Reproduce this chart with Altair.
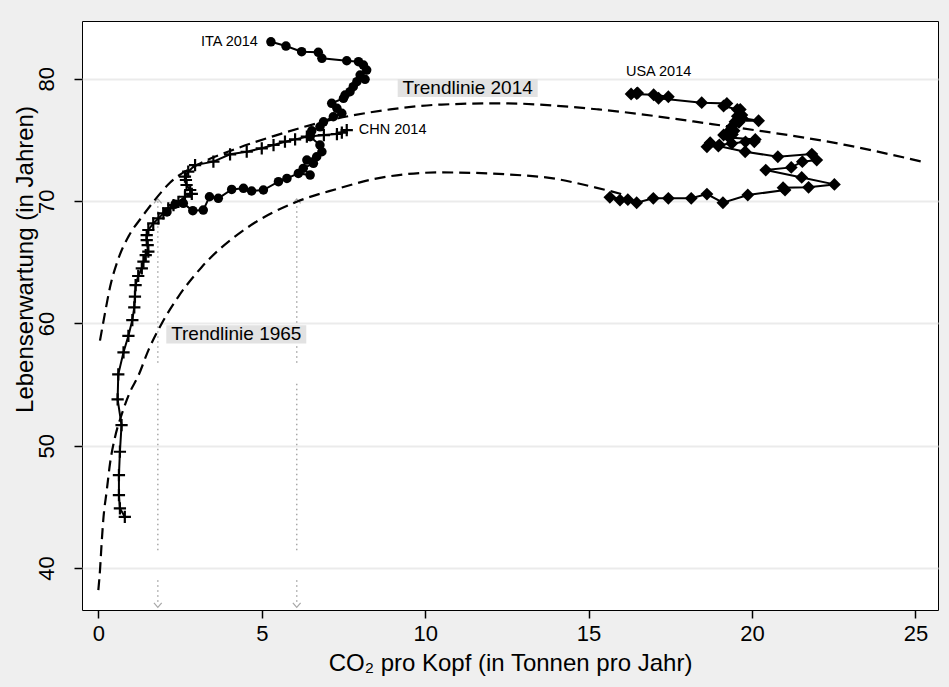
import altair as alt
import pandas as pd

# ---------------- data ----------------
ita_x = [2.10, 2.35, 2.60, 2.89, 3.21, 3.40, 3.67, 4.08, 4.44, 4.69, 5.05, 5.51, 5.77,
         6.12, 6.48, 6.27, 6.58, 6.38, 6.68, 6.84, 6.78, 6.48, 6.53, 6.78, 6.89, 7.19,
         7.45, 7.30, 7.14, 7.50, 7.55, 7.70, 7.80, 7.91, 8.16, 8.01, 8.21, 8.11, 7.96,
         7.60, 6.84, 6.73, 6.22, 5.74, 5.28]
ita_y = [69.12, 69.75, 69.82, 69.22, 69.27, 70.36, 70.23, 70.96, 71.05, 70.83, 70.91,
         71.59, 71.86, 72.27, 72.13, 72.68, 73.09, 73.36, 73.63, 74.04, 74.59, 75.27,
         75.75, 76.08, 76.49, 76.90, 77.18, 77.59, 78.00, 78.41, 78.68, 78.95, 79.36,
         79.77, 79.96, 80.31, 80.72, 81.13, 81.40, 81.48, 81.68, 82.17, 82.22, 82.68, 83.03]

chn_x = [0.81, 0.66, 0.63, 0.63, 0.66, 0.71, 0.59, 0.61, 0.77, 0.92, 1.04, 1.10, 1.12,
         1.14, 1.22, 1.33, 1.38, 1.45, 1.53, 1.51, 1.48, 1.48, 1.53, 1.68, 1.84, 1.99,
         2.14, 2.30, 2.45, 2.65, 2.86, 2.81, 2.70, 2.68, 2.65, 2.75, 2.96, 3.52, 4.03,
         4.54, 5.00, 5.36, 5.71, 6.02, 6.38, 6.90, 7.30, 7.60, 7.45]
chn_y = [44.19, 44.88, 45.97, 47.60, 49.51, 51.69, 53.79, 55.84, 57.64, 58.99, 60.28,
         61.32, 62.19, 63.14, 63.88, 64.51, 65.05, 65.59, 65.87, 66.41, 66.82, 67.23,
         67.64, 68.18, 68.59, 69.00, 69.41, 69.68, 69.95, 70.36, 70.60, 70.91, 71.32,
         71.73, 72.00, 72.41, 72.95, 73.23, 73.83, 74.04, 74.32, 74.59, 74.86, 75.05,
         75.27, 75.40, 75.49, 75.81, 75.60]

usa_x = [15.96, 15.65, 16.20, 16.47, 16.98, 17.44, 18.14, 18.62, 19.11, 19.87, 21.01,
         20.95, 21.73, 22.52, 21.52, 20.42, 21.20, 21.54, 21.98, 21.83, 20.79, 19.79,
         18.97, 18.62, 18.72, 19.00, 19.38, 19.80, 20.07, 20.10, 19.30, 19.13, 19.28,
         19.40, 19.38, 19.45, 19.38, 19.60, 19.48, 19.60, 20.20, 19.69, 19.55, 19.69,
         19.64, 19.55, 19.13, 19.23, 18.46, 17.14, 17.44, 16.99, 16.30, 16.47, 16.50]
usa_y = [70.09, 70.31, 70.12, 69.87, 70.23, 70.23, 70.23, 70.58, 69.87, 70.50, 70.91,
         71.10, 71.13, 71.37, 71.94, 72.54, 72.76, 73.23, 73.36, 73.85, 73.63, 74.04,
         74.50, 74.45, 74.78, 74.60, 74.72, 74.85, 74.86, 75.05, 75.20, 75.41, 75.68,
         75.45, 75.70, 75.75, 76.08, 76.45, 76.49, 76.58, 76.57, 76.80, 76.95, 77.04,
         77.49, 77.50, 77.78, 77.99, 78.05, 78.41, 78.54, 78.70, 78.76, 78.80, 78.84]

trend14_x = [0.05, 0.20, 0.36, 0.60, 0.92, 1.33, 1.73, 2.19, 3.05, 4.13, 5.46, 6.89,
             8.93, 10.5, 12.3, 15.3, 18.77, 22.85, 25.25]
trend14_y = [58.6, 60.8, 63.0, 65.2, 67.1, 68.7, 70.1, 71.5, 73.0, 74.2, 75.4, 76.5,
             77.5, 77.9, 78.0, 77.5, 76.3, 74.6, 73.2]

trend65_x = [0.0, 0.05, 0.10, 0.15, 0.26, 0.36, 0.51, 0.72, 0.97, 1.22, 1.53, 1.94,
             2.45, 3.16, 4.54, 6.07, 7.30, 8.42, 10.46, 13.5, 15.19, 16.12]
trend65_y = [38.2, 39.8, 42.0, 43.9, 46.4, 48.6, 50.7, 52.6, 54.4, 55.7, 57.8, 60.0,
             62.2, 64.6, 67.8, 69.95, 71.0, 71.8, 72.35, 72.0, 71.13, 70.5]

arrow_x = [1.82, 6.07]
arrow_top = [70.0, 70.0]
arrow_bottom = [36.97, 36.97]

trend_label_text = ["Trendlinie 2014", "Trendlinie 1965"]
trend_label_x = [11.3, 4.22]
trend_label_y = [79.25, 59.1]

x_ticks = [0, 5, 10, 15, 20, 25]
y_ticks = [40, 50, 60, 70, 80]
x_domain = [-0.5, 25.69]
y_domain = [36.57, 84.73]

# ---------------- tables ----------------
def series(xs, ys, name):
    return pd.DataFrame({"x": xs, "y": ys, "i": list(range(len(xs))), "s": name})

ita = series(ita_x, ita_y, "ITA")
chn = series(chn_x, chn_y, "CHN")
usa = series(usa_x, usa_y, "USA")
t14 = series(trend14_x, trend14_y, "T14")
t65 = series(trend65_x, trend65_y, "T65")
arrows = pd.DataFrame({"x": arrow_x, "y": arrow_top, "y2": arrow_bottom})
tlabels = pd.DataFrame({"x": trend_label_x, "y": trend_label_y, "t": trend_label_text})

FONT = "Liberation Sans"

X = alt.X("x:Q", scale=alt.Scale(domain=x_domain, nice=False, zero=False),
          axis=alt.Axis(values=x_ticks, title="CO₂ pro Kopf (in Tonnen pro Jahr)",
                        grid=False, tickSize=8, tickWidth=1.5, tickColor="black",
                        labelFontSize=22, labelPadding=5, labelColor="black",
                        titleFontSize=24, titleFontWeight="normal", titleColor="black",
                        titleBaseline="alphabetic", titleY=60, domain=False))
Y = alt.Y("y:Q", scale=alt.Scale(domain=y_domain, nice=False, zero=False),
          axis=alt.Axis(values=y_ticks, title="Lebenserwartung (in Jahren)",
                        grid=True, gridColor="#ebebeb", gridWidth=2,
                        tickSize=8, tickWidth=1.5, tickColor="black",
                        labelFontSize=22, labelAngle=270, labelAlign="center",
                        labelBaseline="alphabetic", labelPadding=21, labelColor="black",
                        titleFontSize=24, titleFontWeight="normal", titleColor="black",
                        titleAngle=270, titleAlign="center", titleBaseline="middle",
                        titleX=-57, titleY=238, domain=False))
Y2 = alt.Y("y2:Q", scale=alt.Scale(domain=y_domain, nice=False, zero=False))

DASH = [11, 6]
trend14 = alt.Chart(t14).mark_line(color="black", strokeWidth=2.2, strokeDash=DASH,
                                   interpolate="monotone").encode(x=X, y=Y, order="i:Q")
trend65 = alt.Chart(t65).mark_line(color="black", strokeWidth=2.2, strokeDash=DASH,
                                   interpolate="monotone").encode(x=X, y=Y, order="i:Q")

# dotted guide with the two breaks seen in the reference
dots = [1.5, 3.5] * 32 + [1.5, 21] + [1.5, 3.5] * 33 + [1.5, 30] + [1.5, 3.5] * 8
arrow_rules = alt.Chart(arrows).mark_rule(color="#a8a8a8", strokeWidth=1.5,
                                          strokeDash=dots).encode(x=X, y=Y, y2="y2:Q")
chev_up = alt.Chart(arrows).mark_point(shape="M-1,0.6L0,-0.6L1,0.6", filled=False,
                                       color="#a8a8a8", size=60, strokeWidth=1.2,
                                       opacity=1).encode(x=X, y=Y)
chev_dn = alt.Chart(arrows).mark_point(shape="M-1,-0.6L0,0.6L1,-0.6", filled=False,
                                       color="#a8a8a8", size=60, strokeWidth=1.2,
                                       opacity=1).encode(x=X, y=Y2)

label_bg = alt.Chart(tlabels).mark_point(shape="M-1,-0.13L1,-0.13L1,0.13L-1,0.13Z",
                                         filled=True, color="#e2e2e2", size=19600,
                                         opacity=1, strokeWidth=0).encode(x=X, y=Y)
label_txt = alt.Chart(tlabels).mark_text(font=FONT, fontSize=19, color="black",
                                         baseline="middle", align="center").encode(
    x=X, y=Y, text="t:N")

def line(df):
    return alt.Chart(df).mark_line(color="black", strokeWidth=2).encode(
        x=X, y=Y, order="i:Q")

ita_line = line(ita)
chn_line = line(chn)
usa_line = line(usa)
ita_pts = alt.Chart(ita).mark_point(shape="circle", filled=True, color="black",
                                    size=90, opacity=1).encode(x=X, y=Y)
chn_pts = alt.Chart(chn).mark_point(shape="M-1,0L1,0M0,-1L0,1", filled=False,
                                    color="black", size=150, strokeWidth=2.2,
                                    opacity=1).encode(x=X, y=Y)
usa_pts = alt.Chart(usa).mark_point(shape="diamond", filled=True, color="black",
                                    size=165, opacity=1).encode(x=X, y=Y)

ita_lab = alt.Chart(ita.tail(1)).mark_text(font=FONT, fontSize=14.5, align="right",
                                           baseline="middle", dx=-13, color="black").encode(
    x=X, y=Y, text=alt.value("ITA 2014"))
chn_lab = alt.Chart(chn.iloc[[-2]]).mark_text(font=FONT, fontSize=14.5, align="left",
                                              baseline="middle", dx=12, color="black").encode(
    x=X, y=Y, text=alt.value("CHN 2014"))
usa_lab = alt.Chart(usa.tail(1)).mark_text(font=FONT, fontSize=14.5, align="center",
                                           baseline="middle", dx=21, dy=-21, color="black").encode(
    x=X, y=Y, text=alt.value("USA 2014"))

chart = alt.layer(
    arrow_rules, chev_up, chev_dn,
    trend14, trend65,
    label_bg, label_txt,
    ita_line, chn_line, usa_line,
    ita_pts, chn_pts, usa_pts,
    ita_lab, chn_lab, usa_lab,
).properties(
    width=856, height=589,
    padding={"left": 82, "top": 21, "right": 11, "bottom": 77},
    autosize=alt.AutoSizeParams(type="none"),
    background="#efefef",
).configure_view(
    fill="white", stroke="black", strokeWidth=1,
).configure_axis(
    labelFont=FONT, titleFont=FONT,
).configure_text(font=FONT)

chart.save("out.html", embed_options={"renderer": "svg", "actions": False})
